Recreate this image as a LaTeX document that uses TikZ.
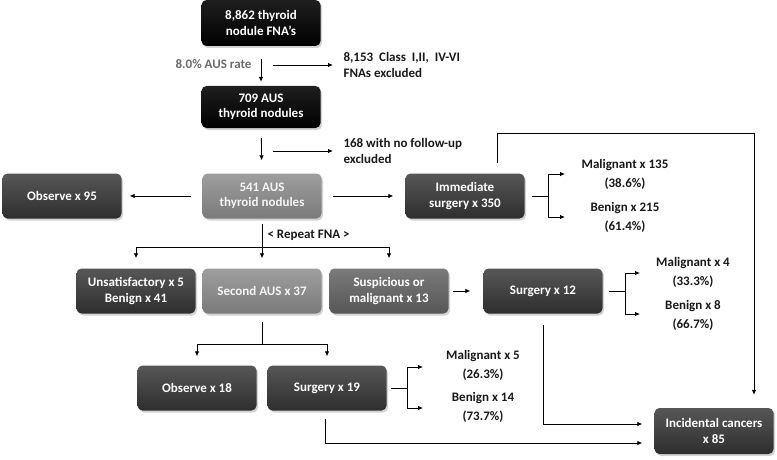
\documentclass[tikz,border=0pt]{standalone}
\usepackage{fontspec}
\setmainfont{Carlito}
\usepackage{tikz}
\usetikzlibrary{positioning,arrows.meta,shadows}

\tikzset{
    box/.style={rounded corners=5pt, minimum width=119pt, minimum height=45pt,
        align=center, text=white,
        drop shadow={shadow xshift=1.5pt, shadow yshift=-2pt, opacity=0.35}},
    blackbox/.style={box, top color=black!88, bottom color=black},
    darkbox/.style={box, top color=black!66, bottom color=black!82},
    midbox/.style={box, top color=black!52, bottom color=black!66},
    lightbox/.style={box, top color=black!38, bottom color=black!52, text=black!4},
    note/.style={align=left, text=black!90},
    result/.style={align=center, text=black!90, font=\fontsize{13}{19}\selectfont\bfseries},
    arr/.style={-{Latex[length=5pt,width=4.5pt]}, line width=0.8pt},
    conn/.style={line width=0.8pt}
}

\begin{document}
\begin{tikzpicture}[x=1pt,y=-1pt,font=\fontsize{13}{15.5}\selectfont\bfseries]
    \useasboundingbox (0,0) rectangle (777,460);

    % 
    \node[blackbox, minimum height=46pt] (fna) at (261,23) {8,862 thyroid\\nodule FNA's};
    \node[blackbox, minimum height=42pt] (aus709) at (261,107) {709 AUS\\thyroid nodules};
    \node[lightbox] (aus541) at (262,196) {541 AUS\\thyroid nodules};
    \node[darkbox] (obs95) at (62,196) {Observe x 95};
    \node[darkbox] (imm) at (465,196) {Immediate\\surgery x 350};

    % 
    \node[darkbox] (unsat) at (136,291) {Unsatisfactory x 5\\Benign x 41};
    \node[lightbox] (second) at (262,291) {Second AUS x 37};
    \node[midbox] (susp) at (389,291) {Suspicious or\\malignant x 13};
    \node[darkbox] (surg12) at (543,291) {Surgery x 12};

    % 
    \node[darkbox] (obs18) at (197,388) {Observe x 18};
    \node[darkbox] (surg19) at (327,388) {Surgery x 19};
    \node[darkbox, minimum height=46pt] (inc) at (714,431) {Incidental cancers\\x 85};

    % 
    \node[anchor=east, text=black!58] (rate) at (255,64) {8.0\% AUS rate};
    \node[note, anchor=west] (excl1) at (340,65) {8,153~ Class~ I,II,~ IV-VI\\FNAs excluded};
    \node[note, anchor=west] (excl2) at (340,151) {168 with no follow-up\\excluded};
    \node[anchor=west, text=black!90] (rep) at (264,235) {< Repeat FNA >};

    \node[result] (mal135) at (625,174) {Malignant x 135\\(38.6\%)};
    \node[result] (ben215) at (625,217) {Benign x 215\\(61.4\%)};
    \node[result] (mal4) at (693,272) {Malignant x 4\\(33.3\%)};
    \node[result] (ben8) at (693,315) {Benign x 8\\(66.7\%)};
    \node[result] (mal5) at (483,365) {Malignant x 5\\(26.3\%)};
    \node[result] (ben14) at (483,407) {Benign x 14\\(73.7\%)};

    % 
    \draw[arr, shorten <=13pt, shorten >=4pt] (fna) -- (aus709);
    \coordinate (s1) at (273,65);
    \draw[arr, shorten >=7pt] (s1) -- (excl1.west);
    \draw[arr, shorten <=10pt, shorten >=13pt] (aus709) -- (aus541);
    \coordinate (s2) at (273,151);
    \draw[arr, shorten >=7pt] (s2) -- (excl2.west);

    \draw[arr, shorten <=11pt, shorten >=8pt] (aus541) -- (obs95);
    \draw[arr, shorten <=11pt, shorten >=12pt] (aus541) -- (imm);

    % 
    \coordinate (rp) at (262,247);
    \draw[arr, shorten <=5pt, shorten >=10pt] (aus541) -- (second);
    \draw[arr, shorten >=10pt] (rp) -| (unsat);
    \draw[arr, shorten >=10pt] (rp) -| (susp);
    \draw[arr, shorten <=4pt, shorten >=13pt] (susp) -- (surg12);

    % 
    \coordinate (sa) at (262,344);
    \draw[conn, shorten <=8pt] (second) -- (sa);
    \draw[arr, shorten >=9pt] (sa) -| (obs18);
    \draw[arr, shorten >=9pt] (sa) -| (surg19);

    % 
    \coordinate (ji) at (548,196);
    \coordinate (mi) at (565,174);
    \coordinate (bi) at (565,217);
    \draw[conn, shorten <=7pt] (imm) -- (ji);
    \draw[arr] (ji) |- (mi);
    \draw[arr] (ji) |- (bi);

    \coordinate (j12) at (625,291);
    \coordinate (m12) at (640,273);
    \coordinate (b12) at (640,314);
    \draw[conn, shorten <=6pt] (surg12) -- (j12);
    \draw[arr] (j12) |- (m12);
    \draw[arr] (j12) |- (b12);

    \coordinate (j19) at (407,388);
    \coordinate (m19) at (423,367);
    \coordinate (b19) at (423,408);
    \draw[conn, shorten <=4pt] (surg19) -- (j19);
    \draw[arr] (j19) |- (m19);
    \draw[arr] (j19) |- (b19);

    % 
    \coordinate (tr) at (754,133);
    \draw[arr, shorten >=13pt] ([xshift=32pt,yshift=10pt]imm.north) |- (tr) -- (tr |- inc.north);
    \draw[arr, shorten <=11pt, shorten >=12pt] (surg12.south) |- ([yshift=7pt]inc.west);
    \draw[arr, shorten <=8pt, shorten >=12pt] ([xshift=-2pt]surg19.south) |- ([yshift=-12pt]inc.west);
\end{tikzpicture}
\end{document}
